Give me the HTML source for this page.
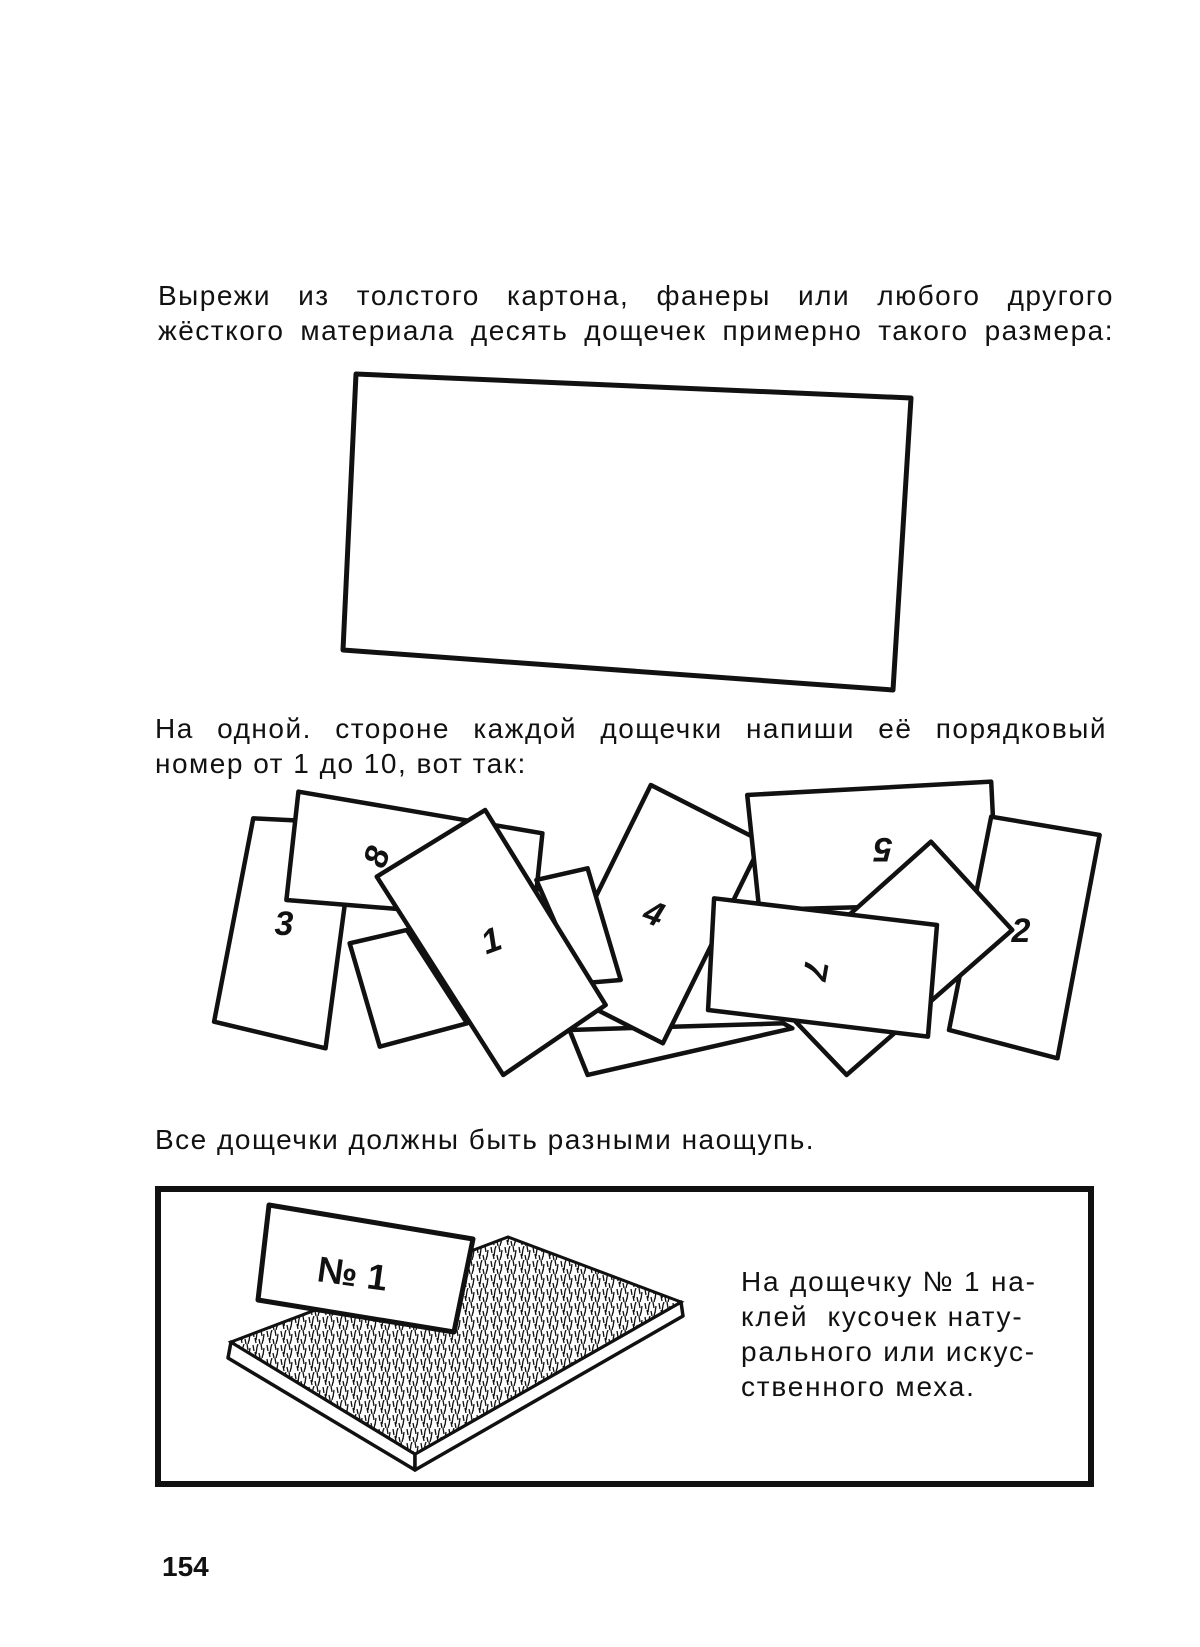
<!DOCTYPE html>
<html><head><meta charset="utf-8"><style>
html,body{margin:0;padding:0;background:#fff}
body{position:relative;width:1200px;height:1647px;overflow:hidden}
svg{display:block;position:absolute;left:0;top:0}
text{font-family:"Liberation Sans","DejaVu Sans",sans-serif;fill:#111}
.t{position:absolute;font-family:"Liberation Sans","DejaVu Sans",sans-serif;font-size:28px;letter-spacing:1.5px;color:#111;white-space:nowrap;line-height:35px}
.j{text-align:justify;text-align-last:justify;white-space:normal}
</style></head><body>
<svg width="1200" height="1647" viewBox="0 0 1200 1647" xmlns="http://www.w3.org/2000/svg">
<defs>
<pattern id="fur" width="14" height="14" patternUnits="userSpaceOnUse">
<rect width="14" height="14" fill="#fff"/>
<path d="M1 1l1 6M5 3l-1 7M9 0l1 6M12 4l-1 7M3 8l1 5M7 9l1 5M11 10l-1 4M6 0l-1 3" stroke="#111" stroke-width="1.3"/>
</pattern>
</defs>
<polygon points="356,374 911,398 893,690 343,650" fill="none" stroke="#111" stroke-width="5" stroke-linejoin="round"/>
<g transform="translate(190,770) scale(0.6024,0.3333)" fill="#fff" stroke="#111" stroke-width="4.5" stroke-linejoin="round">
<polygon vector-effect="non-scaling-stroke" points="105,145 275,160 225,835 40,755"/>
<polygon vector-effect="non-scaling-stroke" points="180,65 585,190 570,450 160,390"/>
<polygon vector-effect="non-scaling-stroke" points="265,520 360,480 460,760 315,830"/>
<polygon vector-effect="non-scaling-stroke" points="630,780 985,760 1000,775 660,915"/>
<polygon vector-effect="non-scaling-stroke" points="765,45 950,215 785,820 600,650"/>
<polygon vector-effect="non-scaling-stroke" points="575,330 660,295 715,630 650,640"/>
<polygon vector-effect="non-scaling-stroke" points="925,75 1330,35 1340,400 945,420"/>
<polygon vector-effect="non-scaling-stroke" points="1330,140 1510,195 1440,865 1260,780"/>
<polygon vector-effect="non-scaling-stroke" points="1230,215 1365,480 1090,915 955,660"/>
<polygon vector-effect="non-scaling-stroke" points="870,385 1240,465 1225,800 860,720"/>
<polygon vector-effect="non-scaling-stroke" points="490,120 690,705 520,915 310,320"/>
</g>
<g font-size="34" font-style="italic" font-weight="bold" text-anchor="middle">
<text x="284" y="935">3</text>
<text x="377" y="868" transform="rotate(-70 377 857)">8</text>
<text x="491" y="952" transform="rotate(-20 491 940)">1</text>
<text x="654" y="925" transform="rotate(20 654 913)">4</text>
<text x="883" y="862" transform="rotate(180 883 850)">5</text>
<text x="1021" y="942">2</text>
<text x="816" y="982" transform="rotate(100 816 970)">7</text>
</g>
<rect x="158" y="1189" width="933" height="295" fill="none" stroke="#111" stroke-width="6"/>
<polygon points="231,1342 415,1454 415,1470 228,1358" fill="#fff" stroke="#111" stroke-width="3.5" stroke-linejoin="round"/>
<polygon points="415,1454 681,1302 683,1316 415,1470" fill="#fff" stroke="#111" stroke-width="3.5" stroke-linejoin="round"/>
<polygon points="231,1342 508,1237 681,1302 415,1454" fill="url(#fur)" stroke="#111" stroke-width="3"/>
<polygon points="269,1205 473,1239 454,1332 258,1300" fill="#fff" stroke="#111" stroke-width="5" stroke-linejoin="round"/>
<text x="318" y="1287" font-size="36" font-weight="bold" transform="rotate(8 360 1270)">№ 1</text>
<text x="162" y="1576" font-size="28" font-weight="bold">154</text>
</svg>
<div class="t j" style="left:158px;top:278px;width:956px">Вырежи из толстого картона, фанеры или любого другого</div>
<div class="t j" style="left:158px;top:313px;width:956px">жёсткого материала десять дощечек примерно такого размера:</div>
<div class="t j" style="left:155px;top:711px;width:952px">На одной. стороне каждой дощечки напиши её порядковый</div>
<div class="t" style="left:155px;top:746px">номер от 1 до 10, вот так:</div>
<div class="t" style="left:155px;top:1122px">Все дощечки должны быть разными наощупь.</div>
<div class="t" style="left:741px;top:1264px;letter-spacing:1.8px">На дощечку № 1 на-</div>
<div class="t" style="left:741px;top:1299px;letter-spacing:1.8px">клей&nbsp; кусочек нату-</div>
<div class="t" style="left:741px;top:1334px;letter-spacing:1.8px">рального или искус-</div>
<div class="t" style="left:741px;top:1369px;letter-spacing:1.8px">ственного меха.</div>
</body></html>
